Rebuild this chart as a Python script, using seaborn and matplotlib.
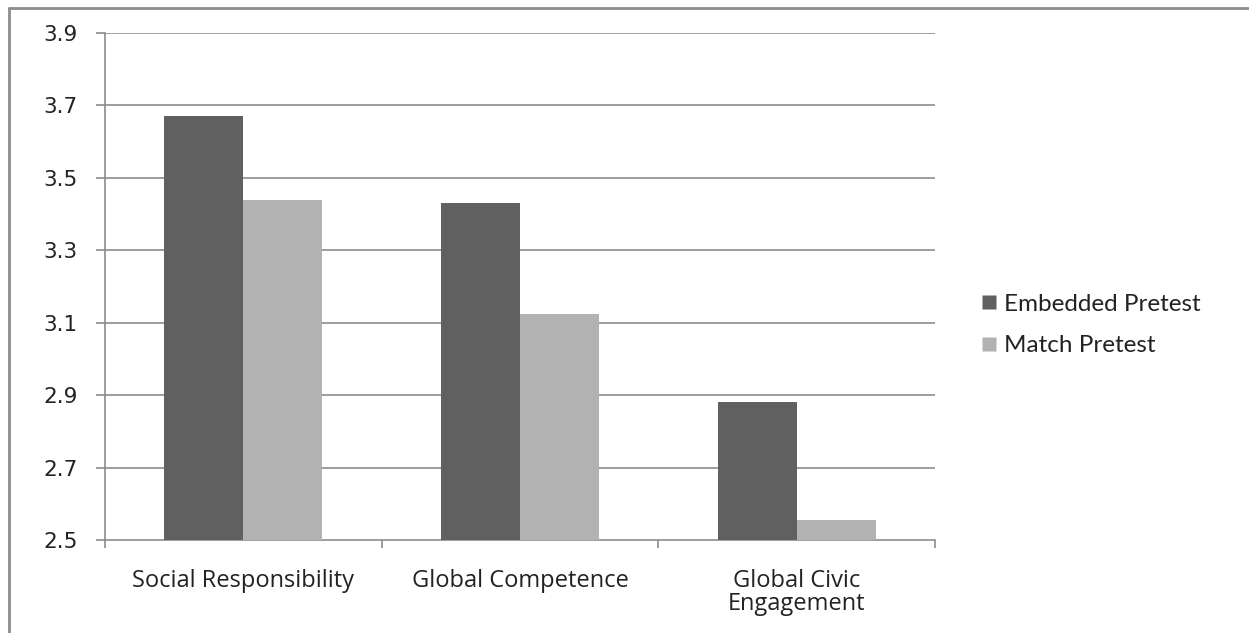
import matplotlib
matplotlib.use("Agg")
import matplotlib.pyplot as plt
import seaborn as sns
import pandas as pd
import numpy as np
from matplotlib.lines import Line2D

categories = ["Social Responsibility", "Global Competence", "Global Civic\nEngagement"]
series_names = ["Embedded Pretest", "Match Pretest"]
embedded = [3.67, 3.43, 2.88]
match = [3.44, 3.125, 2.555]
yticks = [2.5, 2.7, 2.9, 3.1, 3.3, 3.5, 3.7, 3.9]

df = pd.DataFrame({
    "category": categories * 2,
    "series": [series_names[0]] * 3 + [series_names[1]] * 3,
    "value": embedded + match,
})

sns.set_theme(style="white")
plt.rcParams['font.family'] = ['DejaVu Sans']

W, H = 1249, 633
fig = plt.figure(figsize=(W / 100, H / 100), dpi=100)
ax = fig.add_axes([105 / W, 1 - 540 / H, (935 - 105) / W, (540 - 33) / H])

palette = {series_names[0]: "#606060", series_names[1]: "#b2b2b2"}
sns.barplot(data=df, x="category", y="value", hue="series", palette=palette,
            width=0.572, saturation=1, edgecolor="none", linewidth=0, ax=ax,
            zorder=3)

ax.set_ylim(2.5, 3.9)
ax.set_xlim(-0.5, 2.5)
ax.set_yticks(yticks)
ax.set_yticklabels([f"{v:.1f}" for v in yticks], fontsize=15.5, color="#222222",
                   family="DejaVu Sans")
for v in yticks[1:]:
    ax.axhline(v, color="#8c8c8c", lw=1.2, zorder=1)

ax.set_xlabel("")
ax.set_ylabel("")
ax.set_xticks(range(3))
ax.set_xticklabels(categories, fontsize=17, color="#222222", family="Open Sans",
                   linespacing=0.95)
ax.tick_params(axis="x", which="major", length=0, pad=21)
ax.set_xticks([-0.5, 0.5, 1.5, 2.5], minor=True)
ax.tick_params(axis="x", which="minor", length=6, width=1.2, color="#8c8c8c",
               direction="out", bottom=True)
ax.tick_params(axis="y", length=6.5, width=1.2, color="#8c8c8c", direction="out",
               left=True, pad=13)

for s in ["top", "right"]:
    ax.spines[s].set_visible(False)
for s in ["left", "bottom"]:
    ax.spines[s].set_color("#8c8c8c")
    ax.spines[s].set_linewidth(1.2)

ax.legend_.remove()
handles = [Line2D([0], [0], marker="s", linestyle="none", markersize=10,
                  markerfacecolor=palette[n], markeredgecolor="none") for n in series_names]
fig.legend(handles, series_names, loc="center left",
           bbox_to_anchor=(957 / W, 1 - 325 / H), frameon=False,
           prop={"family": "Lato", "size": 17.5}, handletextpad=0.25,
           labelspacing=0.85, handlelength=0.8, labelcolor="#222222")

# outer chart border (left and top visible)
fig.add_artist(Line2D([9 / W, 9 / W], [0, 1 - 8 / H], transform=fig.transFigure,
                      color="#8c8c8c", lw=2))
fig.add_artist(Line2D([9 / W, 1], [1 - 8 / H, 1 - 8 / H], transform=fig.transFigure,
                      color="#8c8c8c", lw=2))

fig.savefig("out.png", dpi=100)
